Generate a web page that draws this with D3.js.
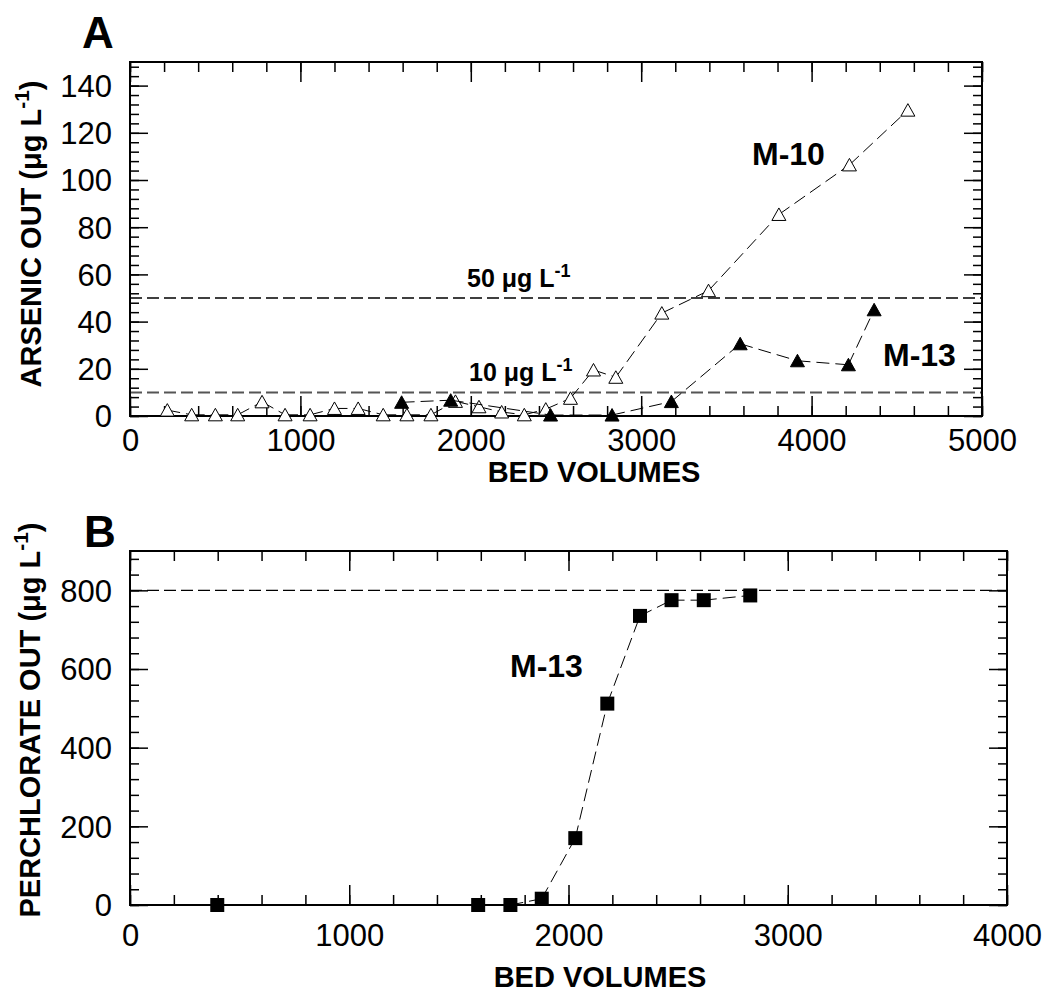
<!DOCTYPE html>
<html>
<head>
<meta charset="utf-8">
<script src="https://d3js.org/d3.v7.min.js"></script>
<style>
  body { margin: 0; background: #fff; }
  text { font-family: "Liberation Sans", Arial, sans-serif; fill: #000; }
  .ticklab text { font-size: 31px; }
  .tick line { stroke: #000; stroke-width: 1.5px; }
  .title { font-size: 29px; font-weight: bold; }
  .panel { font-size: 44px; font-weight: bold; }
  .ann { font-weight: bold; }
</style>
</head>
<body>
<svg id="chart" width="1055" height="998"></svg>
<script>
// Panel A: arsenic out vs bed volumes
var m10Bv = [219, 362, 501, 632, 775, 910, 1057, 1200, 1339, 1486, 1625, 1766, 1910, 2048, 2181, 2314, 2440, 2585, 2720, 2851, 3121, 3395, 3808, 4222, 4565];
var m10As = [2.5, 0.5, 0.5, 0.5, 6.0, 0.5, 0.5, 3.2, 3.2, 0.5, 0.5, 0.5, 6.2, 3.9, 1.7, 0.5, 2.9, 7.5, 19.5, 16.4, 43.6, 53.1, 85.4, 106.4, 129.6];
var m13Bv = [1594, 1882, 2468, 2829, 3177, 3581, 3917, 4216, 4367];
var m13As = [5.8, 6.7, 0.4, 0.4, 6.1, 30.6, 23.4, 21.7, 45.0];
var asLimits = [50, 10];
var asXTicks = [0, 1000, 2000, 3000, 4000, 5000];
var asYTicks = [0, 20, 40, 60, 80, 100, 120, 140];

// Panel B: perchlorate out vs bed volumes
var clBv = [398, 1588, 1735, 1878, 2031, 2177, 2326, 2470, 2617, 2829];
var clOut = [0, 0, 0, 16, 170, 512, 735, 775, 775, 787];
var clLimit = [800];
var clXTicks = [0, 1000, 2000, 3000, 4000];
var clYTicks = [0, 200, 400, 600, 800];

var svg = d3.select("#chart");

function zip(a, b) { return a.map(function (v, i) { return [v, b[i]]; }); }

function axes(g, x, y, xMajor, xMinor, yMajor, yMinor, xPad) {
  var w = x.range()[1], h = y.range()[0];
  var fmt = d3.format("d");
  // minor ticks, all four sides, pointing in
  g.append("g").attr("transform", "translate(0," + h + ")")
    .call(d3.axisBottom(x).tickValues(xMinor).tickSize(-10).tickFormat(""));
  g.append("g")
    .call(d3.axisTop(x).tickValues(xMinor).tickSize(-10).tickFormat(""));
  g.append("g")
    .call(d3.axisLeft(y).tickValues(yMinor).tickSize(-9).tickFormat(""));
  g.append("g").attr("transform", "translate(" + w + ",0)")
    .call(d3.axisRight(y).tickValues(yMinor).tickSize(-9).tickFormat(""));
  // major ticks
  g.append("g").attr("class", "ticklab xlab").attr("transform", "translate(0," + h + ")")
    .call(d3.axisBottom(x).tickValues(xMajor).tickSize(-20).tickPadding(xPad).tickFormat(fmt));
  g.append("g")
    .call(d3.axisTop(x).tickValues(xMajor).tickSize(-20).tickFormat(""));
  g.append("g").attr("class", "ticklab ylab")
    .call(d3.axisLeft(y).tickValues(yMajor).tickSize(-18).tickPadding(18).tickFormat(fmt));
  g.append("g").attr("transform", "translate(" + w + ",0)")
    .call(d3.axisRight(y).tickValues(yMajor).tickSize(-18).tickFormat(""));
  g.selectAll(".domain").remove();
  g.selectAll(".xlab .tick text").attr("dy", "0.71em");
  g.selectAll(".ylab .tick text").attr("dy", "0.35em");
  g.append("rect").attr("width", w).attr("height", h)
    .attr("fill", "none").attr("stroke", "#000").attr("stroke-width", 2);
}

function series(g, x, y, pts, marker) {
  var line = d3.line().x(function (d) { return x(d[0]); }).y(function (d) { return y(d[1]); });
  for (var i = 0; i < pts.length - 1; i++) {
    g.append("path").attr("d", line([pts[i], pts[i + 1]]))
      .attr("fill", "none").attr("stroke", "#000").attr("stroke-width", 1)
      .attr("stroke-dasharray", "13,6");
  }
  var m = g.selectAll(null).data(pts).enter().append("path")
    .attr("transform", function (d) { return "translate(" + x(d[0]) + "," + y(d[1]) + ")"; });
  var tri = "M0,-6.5L7,6L-7,6Z";
  if (marker === "open") m.attr("d", tri).attr("fill", "#fff").attr("stroke", "#000").attr("stroke-width", 1);
  if (marker === "filled") m.attr("d", tri).attr("fill", "#000").attr("stroke", "#000").attr("stroke-width", 1);
  if (marker === "square") m.attr("d", "M-7,-7H7V7H-7Z").attr("fill", "#000");
}

function supText(sel, parts, size) {
  sel.append("tspan").text(parts[0]);
  sel.append("tspan").attr("dy", -size * 0.42).attr("font-size", size * 0.72).text(parts[1]);
  if (parts[2]) sel.append("tspan").attr("dy", size * 0.42).text(parts[2]);
}

// ---- Panel A ----
var gA = svg.append("g").attr("transform", "translate(130,62)");
var xA = d3.scaleLinear().domain([0, 5000]).range([0, 852]);
var yA = d3.scaleLinear().domain([0, 150]).range([354, 0]);

gA.selectAll(".lim").data(asLimits).enter().append("line")
  .attr("x1", 0).attr("x2", 852)
  .attr("y1", function (d) { return yA(d); }).attr("y2", function (d) { return yA(d); })
  .attr("stroke", function (d, i) { return i === 0 ? "#000" : "#555"; })
  .attr("stroke-width", function (d, i) { return i === 0 ? 1.3 : 2; })
  .attr("stroke-dasharray", "12,5");

axes(gA, xA, yA, asXTicks, d3.range(0, 5001, 200), asYTicks, d3.range(0, 150, 4), 13);
series(gA, xA, yA, zip(m10Bv, m10As), "open");
series(gA, xA, yA, zip(m13Bv, m13As), "filled");

svg.append("text").attr("class", "panel").attr("x", 82).attr("y", 48).text("A");
supText(svg.append("text").attr("class", "ann").attr("font-size", 25).attr("x", 467).attr("y", 287), ["50 μg L", "-1"], 25);
supText(svg.append("text").attr("class", "ann").attr("font-size", 25).attr("x", 469).attr("y", 381), ["10 μg L", "-1"], 25);
svg.append("text").attr("class", "ann").attr("font-size", 32).attr("x", 752).attr("y", 165).text("M-10");
svg.append("text").attr("class", "ann").attr("font-size", 32).attr("x", 883).attr("y", 366).text("M-13");
svg.append("text").attr("class", "title").attr("text-anchor", "middle").attr("x", 594).attr("y", 482).text("BED VOLUMES");
supText(svg.append("text").attr("class", "title").attr("text-anchor", "middle")
  .attr("transform", "translate(41,234) rotate(-90)"), ["ARSENIC OUT (μg L", "-1", ")"], 29);

// ---- Panel B ----
var gB = svg.append("g").attr("transform", "translate(130,551)");
var xB = d3.scaleLinear().domain([0, 4000]).range([0, 877]);
var yB = d3.scaleLinear().domain([0, 900]).range([354, 0]);

gB.selectAll(".lim").data(clLimit).enter().append("line")
  .attr("x1", 0).attr("x2", 877)
  .attr("y1", function (d) { return yB(d); }).attr("y2", function (d) { return yB(d); })
  .attr("stroke", "#000").attr("stroke-width", 1.3).attr("stroke-dasharray", "12,5");

axes(gB, xB, yB, clXTicks, d3.range(0, 4001, 200), clYTicks, d3.range(0, 900, 40), 19);
series(gB, xB, yB, zip(clBv, clOut), "square");

svg.append("text").attr("class", "panel").attr("x", 84).attr("y", 547).text("B");
svg.append("text").attr("class", "ann").attr("font-size", 32).attr("x", 510).attr("y", 677).text("M-13");
svg.append("text").attr("class", "title").attr("text-anchor", "middle").attr("x", 600).attr("y", 987).text("BED VOLUMES");
supText(svg.append("text").attr("class", "title").attr("text-anchor", "middle")
  .attr("transform", "translate(40,720) rotate(-90)"), ["PERCHLORATE OUT (μg L", "-1", ")"], 29);
</script>
</body>
</html>
